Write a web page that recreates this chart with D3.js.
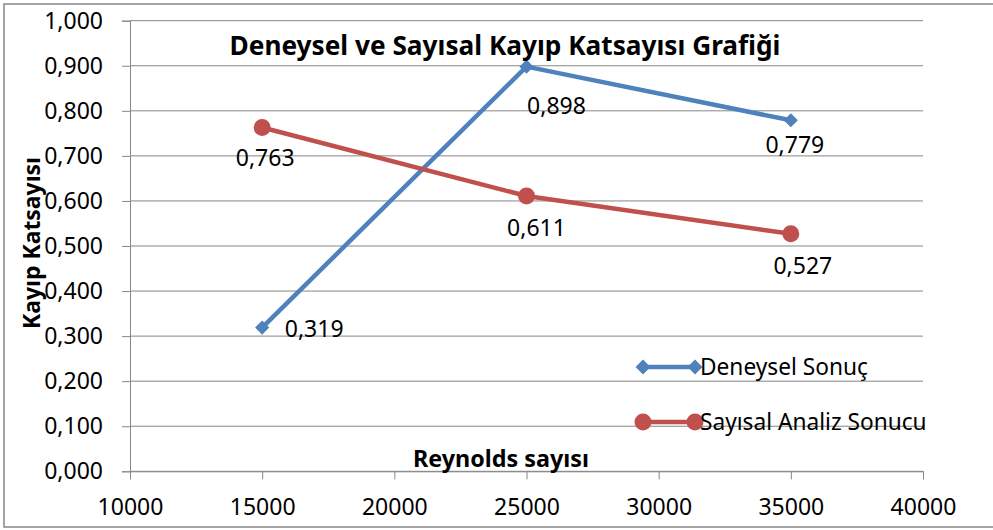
<!DOCTYPE html>
<html>
<head>
<meta charset="utf-8">
<script src="https://cdn.jsdelivr.net/npm/d3@7"></script>
<style>
  body { margin: 0; background: #fff; }
  text { font-family: "Noto Sans", "Open Sans", sans-serif; fill: #000; }
</style>
</head>
<body>
<svg id="chart"></svg>
<script>
// data
const reynolds = [15000, 25000, 35000];
const deneysel = [0.319, 0.898, 0.779];
const sayisal = [0.763, 0.611, 0.527];
const seriesNames = ["Deneysel Sonuç", "Sayısal Analiz Sonucu"];
const xTicks = [10000, 15000, 20000, 25000, 30000, 35000, 40000];
const yTicks = [0, 0.1, 0.2, 0.3, 0.4, 0.5, 0.6, 0.7, 0.8, 0.9, 1.0];

// label nudges (px) to match where the labels were dragged in the original
const labelNudge = [
    [[52, 9], [30, 47], [4, 33]],
    [[3, 39], [10, 40], [12, 40]]
];

const W = 993, H = 530;
const margin = {top: 20.7, right: 70, bottom: 58.7, left: 130};
const width = W - margin.left - margin.right;
const height = H - margin.top - margin.bottom;
const grid = "#868686";
const colors = ["#4F81BD", "#C0504D"];

const svg = d3.select("#chart").attr("width", W).attr("height", H);

// outer border
svg.append("rect")
    .attr("x", 4).attr("y", 4)
    .attr("width", 1000).attr("height", 523)
    .attr("fill", "none").attr("stroke", grid).attr("stroke-width", 1.5);

const g = svg.append("g")
    .attr("transform", "translate(" + margin.left + "," + margin.top + ")");

const x = d3.scaleLinear().domain([10000, 40000]).range([0, width]);
const y = d3.scaleLinear().domain([0, 1]).range([height, 0]);

const trLocale = d3.formatLocale({decimal: ",", thousands: ".", grouping: [3], currency: ["", ""]});
const fmt3 = trLocale.format(".3f");

// gridlines
g.append("g")
    .selectAll("line")
    .data(yTicks)
    .join("line")
    .attr("x1", 0).attr("x2", width)
    .attr("y1", d => y(d)).attr("y2", d => y(d))
    .attr("stroke", grid).attr("stroke-width", 1);

// y axis
const yAxis = g.append("g")
    .call(d3.axisLeft(y).tickValues(yTicks).tickFormat(fmt3).tickSize(8).tickPadding(19));
yAxis.select(".domain").attr("stroke", grid);
yAxis.selectAll(".tick line").attr("stroke", grid);
yAxis.selectAll("text").style("font-size", "23px").attr("fill", "#000");

// x axis
const xAxis = g.append("g")
    .attr("transform", "translate(0," + height + ")")
    .call(d3.axisBottom(x).tickValues(xTicks).tickFormat(d3.format("d")).tickSize(8).tickPadding(19));
xAxis.select(".domain").attr("stroke", grid);
xAxis.selectAll(".tick line").attr("stroke", grid);
xAxis.selectAll("text").style("font-size", "23px").attr("fill", "#000");

// fit a bold text to the width it has in the original
function fitWidth(sel, base, target) {
    let tw = sel.node().getComputedTextLength();
    sel.style("font-size", (base * target / tw) + "px");
}

// title
const title = svg.append("text")
    .attr("x", 505).attr("y", 55)
    .attr("text-anchor", "middle")
    .style("font-size", "22px").style("font-weight", "bold")
    .text("Deneysel ve Sayısal Kayıp Katsayısı Grafiği");
fitWidth(title, 22, 551);

// axis titles
const yTitle = svg.append("text")
    .attr("transform", "translate(40,243) rotate(-90)")
    .attr("text-anchor", "middle")
    .style("font-size", "20px").style("font-weight", "bold")
    .text("Kayıp Katsayısı");
fitWidth(yTitle, 20, 172);

const xTitle = svg.append("text")
    .attr("x", 501).attr("y", 467)
    .attr("text-anchor", "middle")
    .style("font-size", "20px").style("font-weight", "bold")
    .text("Reynolds sayısı");
fitWidth(xTitle, 20, 176);

// series
const allSeries = [deneysel, sayisal];
const line = d3.line().x(d => x(d[0])).y(d => y(d[1]));
const diamond = d3.symbol().type(d3.symbolSquare).size(100);

allSeries.forEach(function (vals, si) {
    const pts = reynolds.map((r, i) => [r, vals[i]]);
    g.append("path")
        .datum(pts)
        .attr("d", line)
        .attr("fill", "none")
        .attr("stroke", colors[si])
        .attr("stroke-width", 4.5)
        .attr("stroke-linejoin", "round");

    if (si === 0) {
        g.selectAll(".mk" + si)
            .data(pts)
            .join("path")
            .attr("d", diamond)
            .attr("transform", d => "translate(" + x(d[0]) + "," + y(d[1]) + ") rotate(45)")
            .attr("fill", colors[si]);
    } else {
        g.selectAll(".mk" + si)
            .data(pts)
            .join("circle")
            .attr("cx", d => x(d[0])).attr("cy", d => y(d[1]))
            .attr("r", 8.5)
            .attr("fill", colors[si]);
    }

    g.selectAll(".lb" + si)
        .data(pts)
        .join("text")
        .attr("x", (d, i) => x(d[0]) + labelNudge[si][i][0])
        .attr("y", (d, i) => y(d[1]) + labelNudge[si][i][1])
        .attr("text-anchor", "middle")
        .style("font-size", "23px")
        .text(d => fmt3(d[1]));
});

// legend
const legendY = [367, 422];
seriesNames.forEach(function (name, si) {
    const lg = svg.append("g");
    lg.append("line")
        .attr("x1", 643).attr("x2", 695)
        .attr("y1", legendY[si]).attr("y2", legendY[si])
        .attr("stroke", colors[si]).attr("stroke-width", 4.5);
    [643, 695].forEach(function (px) {
        if (si === 0) {
            lg.append("path")
                .attr("d", d3.symbol().type(d3.symbolSquare).size(110))
                .attr("transform", "translate(" + px + "," + legendY[si] + ") rotate(45)")
                .attr("fill", colors[si]);
        } else {
            lg.append("circle")
                .attr("cx", px).attr("cy", legendY[si]).attr("r", 8.5)
                .attr("fill", colors[si]);
        }
    });
    lg.append("text")
        .attr("x", 700).attr("y", legendY[si])
        .attr("dy", "0.35em")
        .style("font-size", "22.7px")
        .text(name);
});
</script>
</body>
</html>
